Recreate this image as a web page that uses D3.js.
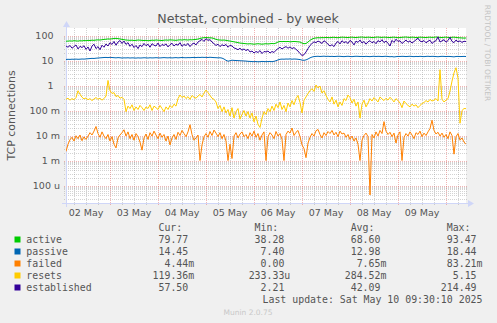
<!DOCTYPE html>
<html><head><meta charset="utf-8">
<script src="https://cdn.jsdelivr.net/npm/d3@7"></script>
<style>
html,body{margin:0;padding:0;background:#f0f0f0;}
svg{display:block;}
</style></head><body>
<svg id="chart" width="497" height="323"></svg>
<script>
// Hourly samples, starting 02 May 02:00
const startTime = Date.UTC(2025, 4, 2, 2);
const endTime = Date.UTC(2025, 4, 10, 10);
const stepHours = 1;

const active = [
  59,60,61,60,62,61,60,62,61,63, 62,64,63,65,64,66,67,66,68,70,
  71,73,72,74,76,77,75,73,70,68, 66,65,64,65,63,64,66,65,64,63,
  64,62,63,65,64,66,65,64,63,65, 66,65,67,66,65,64,66,67,66,68,
  67,66,68,67,69,70,72,76,80,82, 83,82,81,80,76,70,67,66,65,66,
  64,62,60,58,56,54,52,50,49,48, 47,46,47,46,45,46,47,46,45,46,
  47,46,47,48,47,50,55,58,57,58, 57,58,56,57,58,57,56,55,50,47,
  48,55,64,72,78,80,82,81,83,82, 84,83,82,84,85,83,82,84,86,85,
  84,83,85,86,84,83,85,86,87,85, 84,86,85,83,84,86,87,85,84,86,
  85,84,83,85,86,84,82,83,85,86, 87,85,84,86,85,83,84,86,85,84,
  83,85,86,84,85,87,86,84,83,85, 86,84,83,85,86,84,82,81,80,79,
  79.77
];
const passive = [
  11.0,11.2,11.1,11.3,11.2,11.4,11.2,11.3,11.5,11.4, 11.6,11.8,12.0,12.2,12.1,12.4,12.6,12.8,13.0,13.2,
  13.3,13.1,13.4,13.2,13.0,12.8,13.1,12.9,12.6,12.8, 12.7,12.9,12.6,12.8,12.7,12.5,12.8,12.6,12.7,12.9,
  12.8,12.6,12.9,12.7,12.8,13.0,12.8,12.7,12.9,13.1, 12.9,12.8,13.0,12.7,12.9,13.1,12.8,13.0,13.2,13.0,
  12.9,13.1,13.0,13.2,13.3,13.1,13.4,13.2,13.5,13.3, 13.4,13.2,13.5,13.3,13.1,13.0,12.8,12.9,12.5,11.5,
  10.2,9.4,9.8,10.3,10.1,10.0,9.9,9.8,9.7,9.6, 9.5,9.3,9.2,9.1,9.0,9.1,8.9,9.0,9.2,9.1,
  9.0,9.1,9.2,9.0,9.3,9.8,10.6,11.2,11.4,11.3, 11.5,11.4,11.6,11.3,11.5,11.4,11.2,10.9,10.4,10.2,
  10.6,11.5,12.8,13.8,14.4,14.6,14.8,14.5,14.7,14.9, 14.6,14.8,14.5,14.7,14.4,14.6,14.8,14.7,14.5,14.3,
  14.6,14.8,14.5,14.3,14.6,14.8,14.7,14.5,14.6,14.4, 14.7,14.5,14.3,14.6,14.8,14.5,14.7,14.6,14.4,14.6,
  14.8,14.5,14.2,14.4,13.9,14.3,14.6,14.5,14.7,14.6, 14.4,14.6,14.8,14.5,14.3,14.6,14.4,14.7,14.5,14.3,
  14.6,14.8,14.5,14.7,14.6,14.4,14.2,14.5,14.7,14.6, 14.4,14.6,14.5,14.3,14.0,14.5,14.6,14.4,14.5,14.6,
  14.45
];
const failed = [
  0.0023,0.0045,0.0068,0.0085,0.0060,0.0098,0.0075,0.0105,0.0062,0.0088,
  0.0070,0.0095,0.0130,0.0105,0.0150,0.0230,0.0120,0.0085,0.0140,0.0095,
  0.0075,0.0110,0.0060,0.0090,0.0045,0.0032,0.0080,0.0105,0.0130,0.0170,
  0.0095,0.0140,0.0075,0.0110,0.0065,0.0120,0.0090,0.0055,0.0026,0.0080,
  0.0115,0.0070,0.0130,0.0095,0.0150,0.0105,0.0075,0.0125,0.0085,0.0110,
  0.0060,0.0095,0.0042,0.0080,0.0110,0.0070,0.0135,0.0100,0.0160,0.0120,
  0.0090,0.0140,0.0270,0.0110,0.0065,0.0080,0.0105,0.0010,0.0042,0.0090,
  0.0120,0.0085,0.0145,0.0100,0.0165,0.0125,0.0090,0.0130,0.0075,0.0110,
  0.0060,0.0010,0.0045,0.0012,0.0095,0.0130,0.0080,0.0115,0.0140,0.0090,
  0.0110,0.0075,0.0130,0.0095,0.0150,0.0085,0.0120,0.0065,0.0105,0.0140,
  0.0010,0.0090,0.0130,0.0105,0.0075,0.0145,0.0095,0.0120,0.0070,0.0010,
  0.0110,0.0150,0.0125,0.0200,0.0100,0.0135,0.0160,0.0090,0.0042,0.0030,
  0.0013,0.0050,0.0085,0.0120,0.0095,0.0155,0.0175,0.0110,0.0080,0.0130,
  0.0100,0.0145,0.0120,0.0160,0.0105,0.0135,0.0090,0.0150,0.0115,0.0125,
  0.0085,0.0110,0.0070,0.0095,0.0060,0.0080,0.0045,0.0010,0.0065,0.0100,
  0.0125,0.0090,0.000042,0.0110,0.0080,0.0140,0.0095,0.0160,0.0120,0.0360,
  0.0150,0.0110,0.0135,0.0090,0.0125,0.0050,0.0105,0.0140,0.0010,0.0085,
  0.0120,0.0095,0.0140,0.0105,0.0075,0.0130,0.0110,0.0150,0.0090,0.0125,
  0.0100,0.0140,0.0190,0.0410,0.0160,0.0115,0.0135,0.0095,0.0125,0.0085,
  0.0110,0.0075,0.0140,0.0100,0.0018,0.0090,0.0120,0.0065,0.0080,0.0055,
  0.00444
];
const resets = [
  0.28,0.31,0.26,0.30,0.27,0.33,0.62,0.45,0.34,0.29, 0.32,0.27,0.30,0.25,0.29,0.33,0.28,0.31,0.26,0.30,
  0.38,1.6,0.62,0.48,0.52,0.36,0.40,0.31,0.34,0.28, 0.09,0.15,0.12,0.17,0.10,0.14,0.11,0.16,0.13,0.10,
  0.14,0.12,0.17,0.10,0.15,0.13,0.11,0.16,0.12,0.09, 0.14,0.11,0.16,0.13,0.18,0.15,0.30,0.42,0.33,0.38,
  0.30,0.36,0.28,0.40,0.34,0.31,0.38,0.44,0.35,0.50, 0.66,0.52,0.40,0.31,0.28,0.22,0.12,0.16,0.09,0.14,
  0.08,0.11,0.06,0.13,0.05,0.09,0.12,0.045,0.07,0.10, 0.06,0.09,0.05,0.08,0.035,0.06,0.028,0.021,0.05,0.09,
  0.07,0.12,0.09,0.15,0.10,0.18,0.13,0.22,0.11,0.16, 0.09,0.20,0.14,0.25,0.17,0.30,0.40,0.21,0.08,0.26,
  0.35,0.48,0.62,0.75,0.58,1.05,0.80,0.95,0.50,0.62, 0.40,0.28,0.22,0.35,0.18,0.26,0.14,0.22,0.16,0.30,
  0.25,0.42,0.33,0.20,0.28,0.15,0.22,0.05,0.18,0.26, 0.14,0.20,0.30,0.24,0.33,0.27,0.22,0.35,0.29,0.25,
  0.31,0.26,0.34,0.28,0.22,0.30,0.25,0.20,0.13,0.24, 0.19,0.16,0.14,0.18,0.15,0.17,0.13,0.16,0.19,0.21,
  0.25,0.22,0.28,0.24,0.26,0.30,0.24,4.3,0.28,0.22, 0.26,0.30,0.6,1.5,3.2,5.15,2.0,0.031,0.10,0.12,
  0.119
];
const established = [
  38,34,40,31,36,42,29,37,33,39, 28,35,24,38,45,30,36,27,41,34,
  46,38,52,44,58,41,55,63,48,60, 44,52,37,45,33,40,30,42,36,48,
  39,45,34,47,41,38,50,36,44,40, 46,35,43,49,38,45,41,52,37,44,
  40,48,36,45,50,42,55,62,70,58, 75,64,68,55,47,40,45,36,43,39,
  44,34,41,38,32,30,27,31,26,29, 25,28,22,24,20,23,21,25,19,23,
  22,24,20,23,21,26,30,34,29,33, 36,31,35,30,33,28,24,19,16,17,
  22,30,40,48,56,52,60,55,48,62, 54,45,38,43,36,50,58,46,62,52,
  57,48,64,55,42,60,53,66,50,58, 45,56,62,51,58,47,63,55,68,52,
  60,49,38,64,53,71,58,62,48,56, 66,54,61,50,58,67,78,60,56,63,
  51,59,65,48,57,62,88,55,61,68, 54,63,85,58,52,66,56,61,53,59,
  57.5
];

const seriesNames = ["active", "passive", "failed", "resets", "established"];
const seriesColors = ["#00cc00", "#0066b3", "#ff8000", "#ffcc00", "#330099"];
const seriesValues = [active, passive, failed, resets, established];

const legendCur = ["79.77", "14.45", "4.44m", "119.36m", "57.50"];
const legendMin = ["38.28", "7.40", "0.00", "233.33u", "2.21"];
const legendAvg = ["68.60", "12.98", "7.65m", "284.52m", "42.09"];
const legendMax = ["93.47", "18.44", "83.21m", "5.15", "214.49"];

const yTickValues = [1e-4, 1e-3, 1e-2, 1e-1, 1, 10, 100];
const yTickLabels = ["100 u", "1 m", "10 m", "100 m", "1", "10", "100"];

const titleText = "Netstat, combined - by week";
const yAxisTitle = "TCP connections";
const lastUpdate = "Last update: Sat May 10 09:30:10 2025";

// ---- layout ----
const plot = {left: 66, right: 466, top: 28, bottom: 203};
const svg = d3.select("#chart");
const sans = "'DejaVu Sans', sans-serif";
const mono = "'DejaVu Sans Mono', monospace";
const textColor = "#555";

const x = d3.scaleUtc().domain([new Date(startTime), new Date(endTime)]).range([plot.left, plot.right]);
const y = d3.scaleLog().domain([2e-5, 200]).range([plot.bottom, plot.top]);

svg.append("rect").attr("width", 497).attr("height", 323).attr("fill", "#f0f0f0");
svg.append("rect").attr("x", plot.left).attr("y", plot.top)
  .attr("width", plot.right - plot.left).attr("height", plot.bottom - plot.top).attr("fill", "#fff");

// ---- grid ----
const gridColor = "rgba(150,150,150,0.42)";
const mgridColor = "rgba(225,90,90,0.45)";
const grid = svg.append("g").attr("shape-rendering", "crispEdges").attr("stroke-width", 1)
  .attr("stroke-dasharray", "1,1");

// minor horizontal lines: 2..9 of each decade
const minorY = [];
for (let e = -5; e <= 2; e++) {
  for (let k = 2; k <= 9; k++) {
    const v = k * Math.pow(10, e);
    if (v > y.domain()[0] && v < y.domain()[1]) minorY.push(v);
  }
}
grid.selectAll(".hmin").data(minorY).join("line")
  .attr("x1", plot.left - 2).attr("x2", plot.right + 2)
  .attr("y1", d => Math.round(y(d)) + 0.5).attr("y2", d => Math.round(y(d)) + 0.5)
  .attr("stroke", gridColor);

// minor vertical lines every 6 hours
const dayStart = d3.utcDay.floor(new Date(startTime));
const sixHours = d3.utcHour.every(6).range(new Date(startTime), new Date(endTime))
  .filter(d => d.getUTCHours() !== 0);
grid.selectAll(".vmin").data(sixHours).join("line")
  .attr("x1", d => Math.round(x(d)) + 0.5).attr("x2", d => Math.round(x(d)) + 0.5)
  .attr("y1", plot.top).attr("y2", plot.bottom + 2)
  .attr("stroke", gridColor);

// major lines: decades and midnights
grid.selectAll(".hmaj").data(yTickValues).join("line")
  .attr("x1", plot.left - 2).attr("x2", plot.right + 2)
  .attr("y1", d => Math.round(y(d)) + 0.5).attr("y2", d => Math.round(y(d)) + 0.5)
  .attr("stroke", mgridColor);
const days = d3.utcDay.range(dayStart, new Date(endTime));
const midnights = days.filter(d => d >= new Date(startTime));
grid.selectAll(".vmaj").data(midnights).join("line")
  .attr("x1", d => Math.round(x(d)) + 0.5).attr("x2", d => Math.round(x(d)) + 0.5)
  .attr("y1", plot.top).attr("y2", plot.bottom + 2)
  .attr("stroke", mgridColor);

// ---- axes ----
const axisColor = "#cfd6f8";
const ax = svg.append("g").attr("shape-rendering", "crispEdges");
ax.append("line").attr("x1", plot.left - 4).attr("x2", plot.right + 3)
  .attr("y1", plot.bottom + 0.5).attr("y2", plot.bottom + 0.5).attr("stroke", axisColor);
ax.append("line").attr("x1", plot.left + 0.5).attr("x2", plot.left + 0.5)
  .attr("y1", plot.top - 4).attr("y2", plot.bottom + 4).attr("stroke", axisColor);
svg.append("path")
  .attr("d", `M${plot.right + 8},${plot.bottom + 0.5} L${plot.right + 2},${plot.bottom - 3} L${plot.right + 2},${plot.bottom + 4} Z`)
  .attr("fill", axisColor);
svg.append("path")
  .attr("d", `M${plot.left + 0.5},${plot.top - 7} L${plot.left - 3},${plot.top - 1} L${plot.left + 4},${plot.top - 1} Z`)
  .attr("fill", axisColor);

// y tick labels
svg.append("g").selectAll("text").data(yTickValues).join("text")
  .attr("x", (d, i) => yTickLabels[i].includes(" ") ? 60 : 53.5)
  .attr("y", d => y(d) + 3.4)
  .attr("text-anchor", "end")
  .attr("font-family", sans).attr("font-size", 9.5).attr("fill", textColor)
  .text((d, i) => yTickLabels[i]);

// x tick labels at noon of each day
const noons = days.map(d => d3.utcHour.offset(d, 12)).filter(d => x(d) > plot.left && x(d) < plot.right);
svg.append("g").selectAll("text").data(noons).join("text")
  .attr("x", d => x(d)).attr("y", 216)
  .attr("text-anchor", "middle")
  .attr("font-family", sans).attr("font-size", 9.5).attr("fill", textColor)
  .text(d => d3.utcFormat("%d %b")(d));

// ---- series ----
svg.append("clipPath").attr("id", "plotclip").append("rect")
  .attr("x", plot.left).attr("y", plot.top)
  .attr("width", plot.right - plot.left).attr("height", plot.bottom - plot.top);
const line = d3.line()
  .x((d, i) => x(new Date(startTime + i * stepHours * 3600e3)))
  .y(d => y(d));
svg.append("g").attr("clip-path", "url(#plotclip)")
  .selectAll("path").data(seriesValues).join("path")
  .attr("d", d => line(d))
  .attr("fill", "none")
  .attr("stroke", (d, i) => seriesColors[i])
  .attr("stroke-width", 1)
  .attr("stroke-linejoin", "round");

// ---- titles ----
svg.append("text").attr("x", 248).attr("y", 23).attr("text-anchor", "middle")
  .attr("font-family", sans).attr("font-size", 12.6).attr("fill", textColor).text(titleText);
svg.append("text").attr("transform", "translate(15,115.5) rotate(-90)").attr("text-anchor", "middle")
  .attr("font-family", sans).attr("font-size", 11).attr("fill", textColor).text(yAxisTitle);
svg.append("text").attr("transform", "translate(485,53) rotate(90)").attr("text-anchor", "middle")
  .attr("font-family", sans).attr("font-size", 7.5).attr("fill", "#c4c4c4").text("RRDTOOL / TOBI OETIKER");

// ---- legend ----
const charW = 5.96;
const colEnds = [194.2, 290.3, 386.4, 482.5];
const headers = ["Cur:", "Min:", "Avg:", "Max:"];
const lg = svg.append("g").attr("font-family", mono).attr("font-size", 9.9).attr("fill", textColor);
lg.selectAll(".hdr").data(headers).join("text")
  .attr("x", (d, i) => colEnds[i] - 6 * charW).attr("y", 231).text(d => d);

const cols = [legendCur, legendMin, legendAvg, legendMax];
seriesNames.forEach((name, r) => {
  const by = 243 + r * 12;
  lg.append("rect").attr("x", 14.5).attr("y", by - 6.5).attr("width", 6).attr("height", 6)
    .attr("fill", seriesColors[r]);
  lg.append("text").attr("x", 26.3).attr("y", by).text(name);
  cols.forEach((col, c) => {
    const s = col[r];
    const hasUnit = /[a-zA-Z]$/.test(s);
    lg.append("text").attr("x", colEnds[c] - (hasUnit ? 0 : charW)).attr("y", by)
      .attr("text-anchor", "end").text(s);
  });
});
lg.append("text").attr("x", colEnds[3]).attr("y", 303).attr("text-anchor", "end").text(lastUpdate);

svg.append("text").attr("x", 248).attr("y", 315).attr("text-anchor", "middle")
  .attr("font-family", sans).attr("font-size", 7.5).attr("fill", "#c8c8c8").text("Munin 2.0.75");
</script>
</body></html>
